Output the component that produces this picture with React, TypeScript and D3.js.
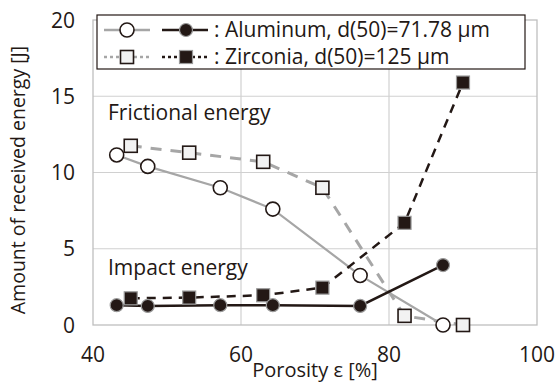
import React from "react";
import * as d3 from "d3";

// porosity [%] and energy [J]
const alPorosity = [43.2, 47.4, 57.2, 64.3, 76.1, 87.3];
const alFrictional = [11.15, 10.4, 9.0, 7.6, 3.25, 0.0];
const alImpact = [1.3, 1.25, 1.3, 1.3, 1.25, 3.93];

const zrPorosity = [45.1, 53.0, 63.0, 71.0, 82.1, 90.0];
const zrFrictional = [11.75, 11.3, 10.7, 9.0, 0.6, 0.0];
const zrImpact = [1.75, 1.8, 1.95, 2.45, 6.7, 15.9];

const xTicks = [40, 60, 80, 100];
const yTicks = [0, 5, 10, 15, 20];

const FONT = "'Open Sans', 'Noto Sans', sans-serif";
const W = 558;
const H = 382;
const margin = { left: 93, right: 21, top: 20, bottom: 57 };

export default function App() {
  const x = d3.scaleLinear().domain([40, 100]).range([margin.left, W - margin.right]);
  const y = d3.scaleLinear().domain([0, 20]).range([H - margin.bottom, margin.top]);

  const line = (xs: number[], ys: number[]) =>
    d3.line<number>().x((_, i) => x(xs[i])).y((d) => y(d))(ys) || "";

  const circle = (cx: number, cy: number, filled: boolean, key: string) => (
    <circle key={key} cx={cx} cy={cy} r={filled ? 6.5 : 7}
      fill={filled ? "#231815" : "#ffffff"}
      stroke={filled ? "#9a9a9a" : "#231815"} strokeWidth={filled ? 1.2 : 1.6} />
  );
  const square = (cx: number, cy: number, filled: boolean, key: string) => (
    <rect key={key} x={cx - 6.5} y={cy - 6.5} width={13} height={13}
      fill={filled ? "#231815" : "#f2f2f2"}
      stroke={filled ? "#9a9a9a" : "#231815"} strokeWidth={filled ? 1.2 : 1.6} />
  );

  const gray = "#a6a6a6";
  const dark = "#231815";
  const ink = "#231815";

  return (
    <svg width={W} height={H} style={{ position: "absolute", left: 0, top: 0, fontFamily: FONT }}>
      <rect width={W} height={H} fill="#ffffff" />
      {/* grid */}
      {yTicks.slice(1, -1).map((t) => (
        <line key={"gy" + t} x1={x(40)} x2={x(100)} y1={y(t)} y2={y(t)} stroke="#d0d0d0" strokeWidth={1.2} />
      ))}
      {xTicks.slice(1, -1).map((t) => (
        <line key={"gx" + t} x1={x(t)} x2={x(t)} y1={y(0)} y2={y(20)} stroke="#d0d0d0" strokeWidth={1.2} />
      ))}
      <rect x={x(40)} y={y(20)} width={x(100) - x(40)} height={y(0) - y(20)} fill="none" stroke="#bfbfbf" strokeWidth={1.3} />

      {/* ticks */}
      {yTicks.map((t) => (
        <text key={"ty" + t} x={75} y={y(t)} dy="0.36em" textAnchor="end" fontSize={21} fill={ink}>{t}</text>
      ))}
      {xTicks.map((t) => (
        <text key={"tx" + t} x={x(t)} y={362} textAnchor="middle" fontSize={21} fill={ink}>{t}</text>
      ))}
      <text x={315} y={377} textAnchor="middle" fontSize={20} fill={ink}>Porosity ε [%]</text>
      <text transform={`translate(25,180) rotate(-90)`} textAnchor="middle" fontSize={19.5} fill={ink}>
        Amount of received energy [J]
      </text>

      {/* series lines */}
      <path d={line(alPorosity, alFrictional)} fill="none" stroke={gray} strokeWidth={2.2} />
      <path d={line(zrPorosity, zrFrictional)} fill="none" stroke={gray} strokeWidth={3} strokeDasharray="11,9" />
      <path d={line(alPorosity, alImpact)} fill="none" stroke={dark} strokeWidth={2.5} />
      <path d={line(zrPorosity, zrImpact)} fill="none" stroke={dark} strokeWidth={2.5} strokeDasharray="9,7" />

      {/* markers */}
      {zrPorosity.map((p, i) => square(x(p), y(zrImpact[i]), true, "zi" + i))}
      {alPorosity.map((p, i) => circle(x(p), y(alImpact[i]), true, "ai" + i))}
      {zrPorosity.map((p, i) => square(x(p), y(zrFrictional[i]), false, "zf" + i))}
      {alPorosity.map((p, i) => circle(x(p), y(alFrictional[i]), false, "af" + i))}

      <text x={108} y={120} fontSize={21} fill={ink}>Frictional energy</text>
      <text x={108} y={275} fontSize={21} fill={ink}>Impact energy</text>

      {/* legend */}
      <rect x={97} y={15} width={428} height={54} fill="#ffffff" stroke={ink} strokeWidth={1.2} />
      <line x1={104} x2={150} y1={30} y2={30} stroke={gray} strokeWidth={2.5} />
      {circle(127, 30, false, "lc1")}
      <line x1={162} x2={208} y1={30} y2={30} stroke={dark} strokeWidth={2.5} />
      {circle(186, 30, true, "lc2")}
      <text x={214} y={37} fontSize={21} fill={ink}>: Aluminum, d(50)=71.78 µm</text>
      <line x1={104} x2={150} y1={57} y2={57} stroke={gray} strokeWidth={2.5} strokeDasharray="3,3" />
      {square(127, 57, false, "ls1")}
      <line x1={162} x2={208} y1={57} y2={57} stroke={dark} strokeWidth={2.5} strokeDasharray="3,3" />
      {square(186, 57, true, "ls2")}
      <text x={214} y={64} fontSize={21} fill={ink}>: Zirconia, d(50)=125 µm</text>
    </svg>
  );
}
